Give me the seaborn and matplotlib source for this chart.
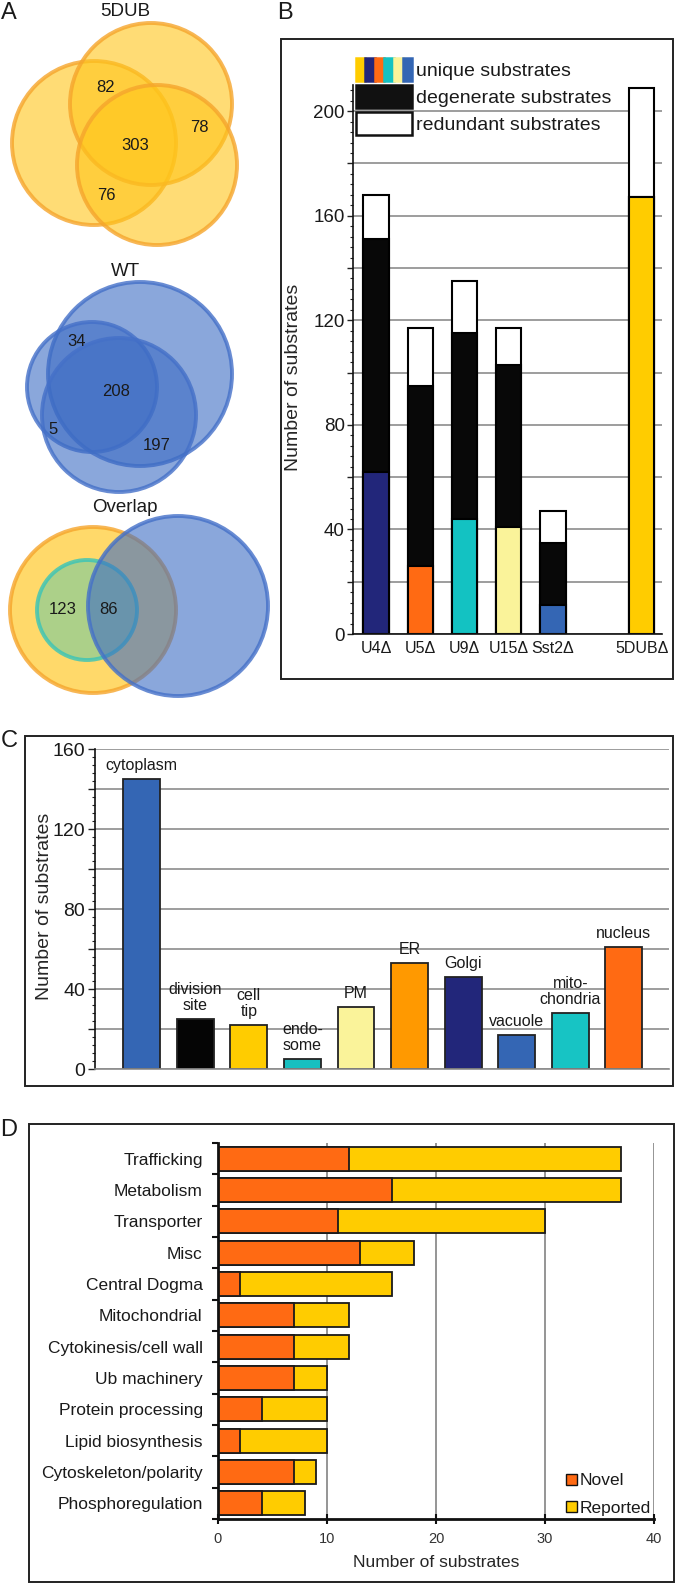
import numpy as np
import pandas as pd
import matplotlib
matplotlib.use("Agg")
import matplotlib.pyplot as plt
from matplotlib.patches import Circle, Rectangle, Patch
from matplotlib.legend_handler import HandlerTuple
from matplotlib.ticker import MultipleLocator
import seaborn as sns

####################################################################
# Data
####################################################################
# A - venn region counts
dub_counts = [82, 303, 78, 76]
wt_counts = [34, 208, 5, 197]
overlap_counts = [123, 86]

# B - substrates per deletion strain
strains = ["U4Δ", "U5Δ", "U9Δ", "U15Δ", "Sst2Δ", "5DUBΔ"]
unique = [62, 26, 44, 41, 11, 167]
degenerate = [89, 69, 71, 62, 24, 0]
redundant = [17, 22, 20, 14, 12, 42]
strain_colors = ["#22267a", "#ff6a13", "#13c2c2", "#faf39a", "#3466b4", "#ffcc00"]
unique_legend_colors = ["#ffcc00", "#22267a", "#ff6a13", "#13c2c2", "#faf39a", "#3466b4"]

# C - localisation
locations = ["cytoplasm", "division\nsite", "cell\ntip", "endo-\nsome", "PM",
             "ER", "Golgi", "vacuole", "mito-\nchondria", "nucleus"]
location_counts = [145, 25, 22, 5, 31, 53, 46, 17, 28, 61]
location_colors = ["#3466b4", "#050505", "#ffcc00", "#17bfc0", "#faf39a",
                   "#ff9900", "#22267a", "#3466b4", "#17c4c4", "#ff6a13"]

# D - function classes
functions = ["Trafficking", "Metabolism", "Transporter", "Misc", "Central Dogma",
             "Mitochondrial", "Cytokinesis/cell wall", "Ub machinery",
             "Protein processing", "Lipid biosynthesis", "Cytoskeleton/polarity",
             "Phosphoregulation"]
novel = [12, 16, 11, 13, 2, 7, 7, 7, 4, 2, 7, 4]
reported = [25, 21, 19, 5, 14, 5, 5, 3, 6, 8, 2, 4]
novel_color = "#ff6a13"
reported_color = "#ffcc00"

####################################################################
sns.set_style("white")
plt.rcParams["font.family"] = ["Liberation Sans", "DejaVu Sans"]
plt.rcParams["text.color"] = "#1a1a1a"

W, H = 676, 1584
fig = plt.figure(figsize=(W / 100, H / 100), dpi=100)


def px_axes(l, t, r, b):
    return fig.add_axes([l / W, 1 - b / H, (r - l) / W, (b - t) / H])


def box(l, t, r, b):
    fig.add_artist(Rectangle((l / W, 1 - b / H), (r - l) / W, (b - t) / H,
                             transform=fig.transFigure, fill=False, lw=1.4, ec="#222222"))


def letter(x, y, s):
    fig.text(x / W, 1 - y / H, s, fontsize=17, ha="left", va="top")


####################################################################
# A - venn diagrams (pixel-like coordinates)
####################################################################
axA = px_axes(0, 0, 280, 705)
axA.set_xlim(0, 280)
axA.set_ylim(705, 0)
axA.axis("off")


def circ(cx, cy, r, fc, ec, alpha=0.55):
    axA.add_patch(Circle((cx, cy), r, fc=matplotlib.colors.to_rgba(fc, alpha),
                         ec=matplotlib.colors.to_rgba(ec, 0.8), lw=2.8))


yel, yel_edge = "#ffc61a", "#f5a52c"
blu, blu_edge = "#3d6cc4", "#4470c8"

# 5DUB
circ(94, 143, 82, yel, yel_edge, 0.6)
circ(151, 104, 81, yel, yel_edge, 0.6)
circ(157, 165, 80, yel, yel_edge, 0.6)
axA.text(125, 12, "5DUB", fontsize=13.5, ha="center", va="center")
for (x, y), n in zip([(106, 87), (135, 145), (199, 128), (106, 196)], dub_counts):
    axA.text(x, y, str(n), fontsize=12, ha="center", va="center")

# WT
circ(140, 374, 92, blu, blu_edge, 0.6)
circ(92, 387, 65, blu, blu_edge, 0.6)
circ(119, 415, 77, blu, blu_edge, 0.6)
axA.text(125, 272, "WT", fontsize=13.5, ha="center", va="center")
for (x, y), n in zip([(77, 342), (116, 392), (53, 430), (157, 445)], wt_counts):
    axA.text(x, y, str(n), fontsize=12, ha="center", va="center")

# Overlap
circ(93, 610, 83, yel, yel_edge, 0.65)
circ(87, 610, 50, "#5bc8a8", "#38c4b8", 0.5)
circ(178, 606, 90, blu, blu_edge, 0.6)
axA.text(125, 508, "Overlap", fontsize=13.5, ha="center", va="center")
for (x, y), n in zip([(63, 609), (109, 609)], overlap_counts):
    axA.text(x, y, str(n), fontsize=12, ha="center", va="center")

####################################################################
# B - stacked bars per strain
####################################################################
axB = px_axes(353, 85, 662, 634)
dfB = pd.DataFrame({"strain": strains, "unique": unique,
                    "degenerate": degenerate, "redundant": redundant})
dfB["deg_top"] = dfB["unique"] + dfB["degenerate"]
dfB["total"] = dfB["deg_top"] + dfB["redundant"]
order_b = strains[:5] + [" "] + strains[5:]
kwB = dict(order=order_b, width=0.57, edgecolor="black", linewidth=1.5,
           saturation=1, errorbar=None, ax=axB)
sns.barplot(data=dfB, x="strain", y="total", color="white", **kwB)
sns.barplot(data=dfB, x="strain", y="deg_top", color="#080808", **kwB)
sns.barplot(data=dfB, x="strain", y="unique", hue="strain",
            palette=dict(zip(strains, strain_colors)), legend=False, **kwB)
axB.set_xlim(-0.52, 6.46)
axB.set_ylim(0, 210)
ticksB = np.arange(0, 201, 20)
axB.set_yticks(ticksB)
axB.set_yticklabels([str(v) if v % 40 == 0 else "" for v in ticksB])
axB.yaxis.set_minor_locator(MultipleLocator(4))
axB.tick_params(axis="y", which="both", left=True, direction="out", color="#222222",
                labelsize=13.5, labelcolor="#1a1a1a", pad=2)
axB.tick_params(axis="y", which="major", length=4, width=1)
axB.tick_params(axis="y", which="minor", length=2.5, width=0.8)
axB.tick_params(axis="x", length=0, pad=5, labelsize=11.5, labelcolor="#1a1a1a")
axB.yaxis.grid(True, color="#8c8c8c", lw=1.2)
axB.set_axisbelow(True)
axB.set_xlabel("")
axB.set_ylabel("Number of substrates", fontsize=14)
axB.yaxis.set_label_coords(-0.165, 0.468)
sns.despine(ax=axB)
for s in ["left", "bottom"]:
    axB.spines[s].set_color("#111111")
    axB.spines[s].set_linewidth(1.2)

uniq_handle = tuple(Patch(facecolor=c, edgecolor=c, lw=1.8) for c in unique_legend_colors)
handlesB = [uniq_handle, Patch(facecolor="#111111", edgecolor="#111111", lw=1.8),
            Patch(facecolor="white", edgecolor="#111111", lw=1.8)]
labelsB = ["unique substrates", "degenerate substrates", "redundant substrates"]
axB.legend(handlesB, labelsB, handler_map={tuple: HandlerTuple(ndivide=None, pad=0)},
           loc="upper left", bbox_to_anchor=(356 / W, 1 - 58 / H),
           bbox_transform=fig.transFigure, frameon=False, fontsize=14,
           handlelength=2.9, handleheight=1.45, handletextpad=0.2,
           labelspacing=0.2, borderpad=0, borderaxespad=0)

####################################################################
# C - localisation bars
####################################################################
axC = px_axes(95, 749, 669, 1069)
dfC = pd.DataFrame({"location": locations, "count": location_counts})
sns.barplot(data=dfC, x="location", y="count", hue="location",
            palette=dict(zip(locations, location_colors)), legend=False,
            width=0.69, edgecolor="#222222", linewidth=1.3, saturation=1, ax=axC)
for i, (lab, v) in enumerate(zip(locations, location_counts)):
    axC.annotate(lab, (i, v), xytext=(0, 4), textcoords="offset points",
                 ha="center", va="bottom", fontsize=11.5, linespacing=1.15)
axC.set_xlim(-0.87, 9.84)
axC.set_ylim(0, 160)
ticksC = np.arange(0, 161, 20)
axC.set_yticks(ticksC)
axC.set_yticklabels([str(v) if v % 40 == 0 else "" for v in ticksC])
axC.yaxis.set_minor_locator(MultipleLocator(4))
axC.set_xticks([])
axC.tick_params(axis="y", which="both", left=True, direction="out", color="#222222",
                labelsize=14, labelcolor="#1a1a1a", pad=2)
axC.tick_params(axis="y", which="major", length=5, width=1)
axC.tick_params(axis="y", which="minor", length=2.5, width=0.8)
axC.yaxis.grid(True, color="#8c8c8c", lw=1.2)
axC.set_axisbelow(True)
axC.set_xlabel("")
axC.set_ylabel("Number of substrates", fontsize=14)
axC.yaxis.set_label_coords(-0.073, 0.509)
sns.despine(ax=axC)
axC.spines["left"].set_color("#111111")
axC.spines["left"].set_linewidth(1.2)
axC.spines["bottom"].set_color("#8c8c8c")
axC.spines["bottom"].set_linewidth(1.2)

####################################################################
# D - function classes, novel vs reported
####################################################################
axD = px_axes(218, 1143, 654, 1519)
dfD = pd.DataFrame({"function": functions, "novel": novel, "reported": reported})
dfD["total"] = dfD["novel"] + dfD["reported"]
kwD = dict(orient="h", width=0.77, edgecolor="#1a1a1a", linewidth=1.3,
           saturation=1, errorbar=None, ax=axD)
sns.barplot(data=dfD, y="function", x="total", color=reported_color, **kwD)
sns.barplot(data=dfD, y="function", x="novel", color=novel_color, **kwD)
axD.set_xlim(0, 40)
axD.set_xticks(np.arange(0, 41, 10))
axD.set_yticks(np.arange(-0.5, len(functions), 1), minor=True)
axD.tick_params(axis="y", which="major", length=0, pad=11, labelsize=12.5,
                labelcolor="#1a1a1a")
axD.tick_params(axis="y", which="minor", left=True, length=4, width=1.5,
                direction="out", color="#111111")
axD.tick_params(axis="x", bottom=True, direction="inout", length=7, width=1.5,
                color="#111111", labelsize=10.5, labelcolor="#333333", pad=6)
axD.xaxis.grid(True, color="#8c8c8c", lw=1.3)
axD.set_axisbelow(True)
axD.set_ylabel("")
axD.set_xlabel("Number of substrates", fontsize=12.5, labelpad=6)
sns.despine(ax=axD)
for s in ["left", "bottom"]:
    axD.spines[s].set_color("#111111")
    axD.spines[s].set_linewidth(2)
axD.legend([Patch(facecolor=novel_color, edgecolor="#111111"),
            Patch(facecolor=reported_color, edgecolor="#111111")],
           ["Novel", "Reported"], loc="lower right", bbox_to_anchor=(1.0, 0.0),
           frameon=False, fontsize=12.5, handlelength=0.6, handleheight=0.6,
           handletextpad=0.15, labelspacing=0.7, borderpad=0.2, borderaxespad=0)

####################################################################
# panel frames and letters
####################################################################
box(281, 39, 673, 679)
box(25, 736, 673, 1086)
box(29, 1124, 674, 1582)
letter(1, 2, "A")
letter(277, 2, "B")
letter(1, 730, "C")
letter(0, 1119, "D")

fig.savefig("out.png", dpi=100)
